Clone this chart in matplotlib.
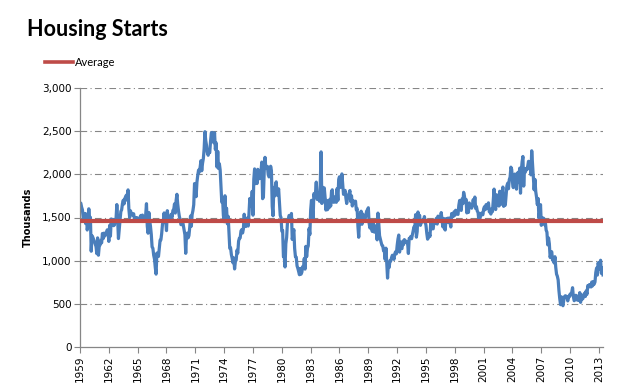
import matplotlib
matplotlib.use("Agg")
import matplotlib.pyplot as plt
from matplotlib.lines import Line2D
import numpy as np

# Monthly housing starts (thousands, SAAR), Jan 1959 - Jun 2013
housing_starts = [
    1657, 1667, 1620, 1590, 1498, 1503, 1547, 1430, 1540, 1355, 1416, 1601,  # 1959
    1460, 1503, 1109, 1289, 1271, 1247, 1221, 1191, 1164, 1081, 1264, 1063,  # 1960
    1166, 1181, 1235, 1206, 1315, 1256, 1319, 1285, 1309, 1329, 1357, 1335,  # 1961
    1223, 1409, 1284, 1483, 1472, 1478, 1405, 1414, 1474, 1487, 1650, 1478,  # 1962
    1256, 1369, 1470, 1570, 1589, 1660, 1700, 1657, 1719, 1743, 1760, 1700,  # 1963
    1820, 1600, 1500, 1578, 1549, 1544, 1524, 1543, 1478, 1498, 1488, 1499,  # 1964
    1483, 1478, 1466, 1506, 1524, 1484, 1528, 1477, 1487, 1471, 1530, 1660,  # 1965
    1400, 1318, 1558, 1465, 1398, 1305, 1159, 1144, 1063, 1019, 920, 844,    # 1966
    1088, 1054, 1049, 1140, 1237, 1241, 1316, 1423, 1458, 1553, 1470, 1458,  # 1967
    1348, 1579, 1497, 1485, 1465, 1506, 1538, 1503, 1582, 1589, 1658, 1551,  # 1968
    1697, 1769, 1657, 1576, 1515, 1476, 1417, 1418, 1464, 1410, 1350, 1300,  # 1969
    1085, 1305, 1319, 1264, 1290, 1385, 1517, 1399, 1534, 1580, 1647, 1893,  # 1970
    1828, 1741, 1910, 1986, 2049, 2026, 2083, 2158, 2041, 2128, 2182, 2295,  # 1971
    2494, 2390, 2334, 2249, 2221, 2254, 2252, 2382, 2481, 2485, 2421, 2366,  # 1972
    2481, 2289, 2365, 2084, 2266, 2067, 2123, 2051, 1874, 1677, 1724, 1526,  # 1973
    1451, 1752, 1555, 1607, 1426, 1513, 1316, 1142, 1150, 1070, 1026, 975,   # 1974
    1032, 904, 993, 1005, 1121, 1087, 1226, 1260, 1264, 1344, 1360, 1321,    # 1975
    1367, 1538, 1421, 1395, 1459, 1495, 1401, 1550, 1720, 1629, 1641, 1804,  # 1976
    1527, 1943, 2063, 1892, 1971, 1893, 2058, 2020, 1949, 2042, 2042, 2142,  # 1977
    1718, 1738, 2032, 2197, 2075, 2070, 2092, 1996, 1970, 1981, 2094, 2044,  # 1978
    1630, 1520, 1847, 1748, 1876, 1913, 1760, 1778, 1832, 1681, 1524, 1498,  # 1979
    1341, 1350, 1047, 1051, 927, 1196, 1269, 1436, 1471, 1523, 1510, 1482,   # 1980
    1547, 1246, 1306, 1360, 1140, 1045, 1041, 940, 911, 873, 837, 910,       # 1981
    843, 866, 931, 917, 1025, 902, 1166, 1046, 1144, 1173, 1372, 1303,       # 1982
    1586, 1699, 1606, 1472, 1776, 1733, 1785, 1910, 1710, 1715, 1785, 1688,  # 1983
    1897, 2260, 1663, 1851, 1774, 1843, 1732, 1586, 1698, 1590, 1689, 1612,  # 1984
    1711, 1632, 1800, 1821, 1680, 1676, 1684, 1743, 1676, 1834, 1698, 1942,  # 1985
    1972, 1848, 1876, 2005, 1887, 1768, 1794, 1814, 1725, 1662, 1725, 1759,  # 1986
    1780, 1812, 1685, 1752, 1633, 1695, 1686, 1670, 1689, 1588, 1605, 1400,  # 1987
    1271, 1473, 1532, 1573, 1421, 1541, 1509, 1474, 1480, 1534, 1578, 1585,  # 1988
    1613, 1431, 1378, 1451, 1374, 1338, 1445, 1334, 1330, 1404, 1361, 1241,  # 1989
    1551, 1437, 1289, 1248, 1212, 1177, 1171, 1115, 1110, 1014, 1145, 969,   # 1990
    798, 965, 921, 1001, 996, 1036, 1063, 1049, 1015, 1079, 1103, 1079,      # 1991
    1176, 1250, 1297, 1099, 1214, 1145, 1139, 1226, 1186, 1244, 1214, 1227,  # 1992
    1210, 1210, 1083, 1258, 1260, 1280, 1254, 1300, 1343, 1392, 1376, 1533,  # 1993
    1272, 1337, 1564, 1465, 1526, 1409, 1439, 1450, 1474, 1450, 1511, 1455,  # 1994
    1407, 1316, 1249, 1267, 1314, 1281, 1461, 1416, 1369, 1369, 1452, 1431,  # 1995
    1467, 1491, 1424, 1516, 1504, 1467, 1472, 1557, 1475, 1392, 1489, 1370,  # 1996
    1355, 1486, 1457, 1492, 1442, 1494, 1437, 1390, 1546, 1520, 1510, 1566,  # 1997
    1525, 1584, 1567, 1540, 1536, 1641, 1698, 1614, 1582, 1715, 1660, 1792,  # 1998
    1748, 1670, 1710, 1553, 1611, 1559, 1669, 1648, 1635, 1608, 1648, 1708,  # 1999
    1636, 1737, 1604, 1626, 1575, 1559, 1463, 1541, 1507, 1549, 1551, 1532,  # 2000
    1600, 1625, 1590, 1649, 1605, 1636, 1670, 1567, 1562, 1540, 1602, 1568,  # 2001
    1698, 1829, 1642, 1592, 1764, 1717, 1655, 1633, 1804, 1648, 1753, 1788,  # 2002
    1853, 1629, 1726, 1643, 1751, 1867, 1897, 1833, 1939, 1967, 2083, 2057,  # 2003
    1911, 1846, 1998, 2003, 1981, 1828, 2002, 2024, 1905, 2072, 1782, 2042,  # 2004
    2144, 2207, 1864, 2061, 2025, 2068, 2054, 2095, 2151, 2065, 2147, 1994,  # 2005
    2273, 2119, 1969, 1821, 1942, 1802, 1737, 1650, 1720, 1491, 1570, 1649,  # 2006
    1409, 1480, 1495, 1490, 1415, 1448, 1354, 1330, 1183, 1264, 1197, 1037,  # 2007
    1084, 1103, 1005, 1013, 973, 1046, 923, 844, 820, 777, 652, 560,         # 2008
    490, 582, 505, 478, 540, 585, 594, 586, 585, 534, 588, 581,              # 2009
    614, 604, 636, 687, 583, 536, 546, 599, 594, 543, 545, 539,              # 2010
    630, 517, 600, 554, 561, 608, 623, 585, 650, 610, 711, 694,              # 2011
    723, 704, 695, 753, 708, 757, 728, 754, 863, 915, 833, 976,              # 2012
    898, 969, 1005, 852, 919, 835,                                           # 2013
]
average_value = 1456
tick_years = ["1959", "1962", "1965", "1968", "1971", "1974", "1977", "1980", "1983",
              "1986", "1989", "1992", "1995", "1998", "2001", "2004", "2007", "2010", "2013"]
y_ticks = [0, 500, 1000, 1500, 2000, 2500, 3000]

W, H = 618, 392
fig = plt.figure(figsize=(W / 100, H / 100), dpi=100)
ax = fig.add_axes([80 / W, 1 - 347 / H, (603 - 80) / W, (347 - 88) / H])

n = len(housing_starts)
x = np.arange(n)
blue = "#4A7EBB"
red = "#BE4B48"
grid_c = "#868686"

ax.plot(x, housing_starts, color=blue, lw=2.3, solid_joinstyle="round", zorder=2)
ax.plot([0, n - 1], [average_value, average_value], color=red, lw=3.0,
        solid_capstyle="butt", zorder=3)

ax.set_xlim(0, n - 1)
ax.set_ylim(0, 3000)
ax.set_yticks(y_ticks)
ax.set_yticklabels([f"{v:,}" for v in y_ticks], fontsize=7.5, fontfamily="DejaVu Sans")
ax.set_xticks(np.arange(0, n, 36)[:len(tick_years)])
ax.set_xticklabels(tick_years, rotation=90, fontsize=7.5, fontfamily="DejaVu Sans")

for v in y_ticks[1:]:
    ax.axhline(v, color=grid_c, lw=0.8, linestyle=(0, (6, 3, 1, 3)), zorder=1)

for s in ["top", "right"]:
    ax.spines[s].set_visible(False)
for s in ["left", "bottom"]:
    ax.spines[s].set_color(grid_c)
    ax.spines[s].set_linewidth(0.9)
ax.tick_params(axis="both", direction="out", length=4, color=grid_c, width=0.8, pad=2)

ax.set_ylabel("Thousands", fontsize=7, fontweight="bold", fontfamily="DejaVu Sans")
ax.yaxis.set_label_coords(-0.090, 0.5)

fig.text(27 / W, 1 - 36 / H, "Housing Starts", fontsize=15.5, fontweight="bold",
         fontfamily="Lato", va="baseline", ha="left")
fig.add_artist(Line2D([45 / W, 73 / W], [1 - 62 / H, 1 - 62 / H], color=red, lw=2.6,
                      transform=fig.transFigure))
fig.text(75 / W, 1 - 62 / H, "Average", fontsize=8, fontfamily="Lato", va="center", ha="left")

fig.savefig("out.png", dpi=100)
